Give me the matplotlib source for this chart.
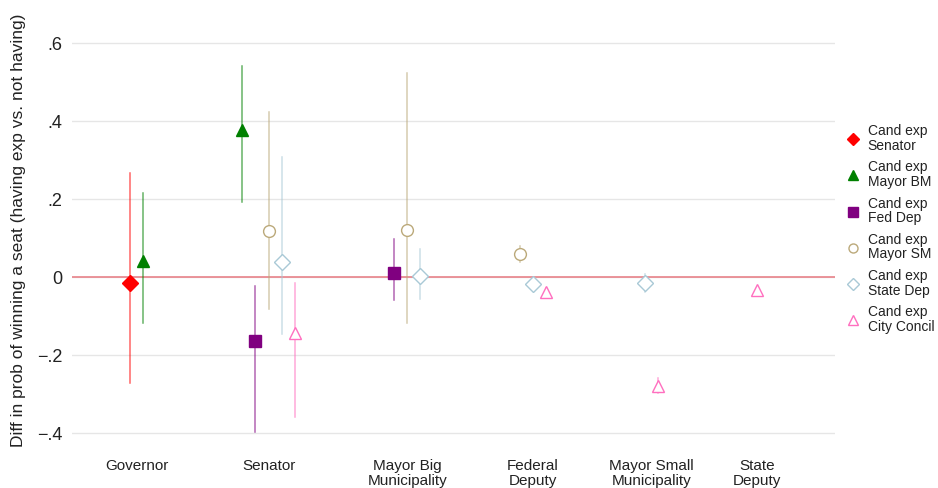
import numpy as np
import matplotlib
matplotlib.use("Agg")
import matplotlib.pyplot as plt
from matplotlib.lines import Line2D

plt.rcParams['font.family'] = ['Liberation Sans', 'DejaVu Sans']

categories = ["Governor", "Senator", "Mayor Big\nMunicipality", "Federal\nDeputy",
              "Mayor Small\nMunicipality", "State\nDeputy"]
series = ["Cand exp\nSenator", "Cand exp\nMayor BM", "Cand exp\nFed Dep",
          "Cand exp\nMayor SM", "Cand exp\nState Dep", "Cand exp\nCity Concil"]

# which series appear in each category (index into series)
cat_series = [
    [0, 1],
    [1, 2, 3, 4, 5],
    [2, 3, 4],
    [3, 4, 5],
    [4, 5],
    [5],
]
# point estimates, lower and upper CI, same layout as cat_series
est = [
    [-0.015, 0.041],
    [0.377, -0.163, 0.118, 0.038, -0.144],
    [0.011, 0.121, 0.003],
    [0.058, -0.018, -0.038],
    [-0.016, -0.279],
    [-0.033],
]
lo = [
    [-0.272, -0.118],
    [0.192, -0.397, -0.083, -0.147, -0.358],
    [-0.059, -0.117, -0.057],
    [0.038, -0.027, -0.049],
    [-0.039, -0.298],
    [-0.040],
]
hi = [
    [0.267, 0.215],
    [0.542, -0.023, 0.423, 0.308, -0.015],
    [0.097, 0.524, 0.071],
    [0.079, -0.009, -0.027],
    [0.007, -0.258],
    [-0.026],
]

colors = ["#ff0000", "#008000", "#800080", "#bba97a", "#a9c9d6", "#ff6fbf"]
markers = ["D", "^", "s", "o", "D", "^"]
filled = [True, True, True, False, False, False]
msizes = {"D": 8.5, "^": 9.0, "s": 8.0, "o": 8.5}

fig = plt.figure(figsize=(9.38, 4.88), dpi=100)
ax = fig.add_axes([72 / 938, 1 - 444.7 / 488, (835 - 72) / 938, (444.7 - 15.7) / 488])

# sequential x positions, small step within a category, larger gap between categories
pos = 0.0
centers = []
for ci, members in enumerate(cat_series):
    xs = []
    for j, s in enumerate(members):
        xs.append(pos)
        ax.plot([pos, pos], [lo[ci][j], hi[ci][j]], color=colors[s], lw=1.1, alpha=0.6, zorder=2)
        ax.plot(pos, est[ci][j], marker=markers[s], ms=msizes[markers[s]], ls="none",
                color=colors[s],
                mfc=colors[s] if filled[s] else "white",
                mec=colors[s], mew=1.0, zorder=3)
        pos += 1
    centers.append(np.mean(xs))
    pos += 6.5

ax.axhline(0, color="#e8838a", lw=1.2, zorder=1)

ax.set_xlim(-4.4, 53.4)
ax.set_ylim(-0.43, 0.67)
ax.set_yticks([-0.4, -0.2, 0, 0.2, 0.4, 0.6])
ax.set_yticklabels(["\u2212.4", "\u2212.2", "0", ".2", ".4", ".6"], fontsize=13)
ax.set_xticks(centers)
ax.set_xticklabels(categories, fontsize=11, linespacing=1.05)
ax.tick_params(axis="both", length=0, colors="#222222")
ax.tick_params(axis="y", pad=7)
ax.tick_params(axis="x", pad=10.5)
ax.yaxis.grid(True, color="#e6e6e6", lw=1)
ax.set_axisbelow(True)
for sp in ax.spines.values():
    sp.set_visible(False)
ax.set_ylabel("Diff in prob of winning a seat (having exp vs. not having)", fontsize=12.5,
              labelpad=8, color="#222222")

handles = []
for s in range(len(series)):
    handles.append(Line2D([], [], marker=markers[s], ls="none", color=colors[s],
                          mfc=colors[s] if filled[s] else "white", mec=colors[s],
                          ms=6.5, mew=1.0))
leg = fig.legend(handles, series, loc="center left", bbox_to_anchor=(840 / 938, 1 - 229 / 488),
                 frameon=False, fontsize=10, handlelength=1.0, handletextpad=0.6,
                 labelspacing=0.55, borderaxespad=0)
for t in leg.get_texts():
    t.set_linespacing(1.05)
    t.set_color("#222222")

fig.savefig("out.png", dpi=100, facecolor="white")
